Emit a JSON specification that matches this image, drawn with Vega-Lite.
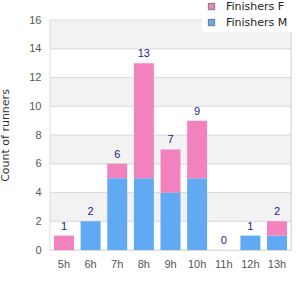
{
  "$schema": "https://vega.github.io/schema/vega-lite/v6.json",
  "width": 241,
  "height": 230,
  "autosize": {"type": "none"},
  "padding": {"left": 50, "top": 20, "right": 9, "bottom": 50},
  "background": "white",
  "config": {
    "view": {"stroke": "#dddddd", "strokeWidth": 1},
    "font": "Liberation Sans",
    "axisY": {"title": "Count of runners", "values": [0, 2, 4, 6, 8, 10, 12, 14, 16], "labelOverlap": false, "labelBound": false, "grid": false, "ticks": false, "domain": false, "labelPadding": 9, "labelColor": "#555555", "labelFontSize": 11, "labelFont": "Liberation Sans", "titleFont": "DejaVu Sans", "titleFontWeight": "normal", "titleFontSize": 11, "titleColor": "#333333", "titlePadding": 18}
  },
  "datasets": {
    "runners": [
      {"hour": "5h", "sex": "Finishers M", "count": 0},
      {"hour": "5h", "sex": "Finishers F", "count": 1},
      {"hour": "6h", "sex": "Finishers M", "count": 2},
      {"hour": "6h", "sex": "Finishers F", "count": 0},
      {"hour": "7h", "sex": "Finishers M", "count": 5},
      {"hour": "7h", "sex": "Finishers F", "count": 1},
      {"hour": "8h", "sex": "Finishers M", "count": 5},
      {"hour": "8h", "sex": "Finishers F", "count": 8},
      {"hour": "9h", "sex": "Finishers M", "count": 4},
      {"hour": "9h", "sex": "Finishers F", "count": 3},
      {"hour": "10h", "sex": "Finishers M", "count": 5},
      {"hour": "10h", "sex": "Finishers F", "count": 4},
      {"hour": "11h", "sex": "Finishers M", "count": 0},
      {"hour": "11h", "sex": "Finishers F", "count": 0},
      {"hour": "12h", "sex": "Finishers M", "count": 1},
      {"hour": "12h", "sex": "Finishers F", "count": 0},
      {"hour": "13h", "sex": "Finishers M", "count": 1},
      {"hour": "13h", "sex": "Finishers F", "count": 1}
    ],
    "bands": [
      {"lo": 0, "hi": 2, "shade": "w"},
      {"lo": 2, "hi": 4, "shade": "g"},
      {"lo": 4, "hi": 6, "shade": "w"},
      {"lo": 6, "hi": 8, "shade": "g"},
      {"lo": 8, "hi": 10, "shade": "w"},
      {"lo": 10, "hi": 12, "shade": "g"},
      {"lo": 12, "hi": 14, "shade": "w"},
      {"lo": 14, "hi": 16, "shade": "g"}
    ]
  },
  "layer": [
    {
      "data": {"name": "bands"},
      "mark": {"type": "rect", "stroke": "#dddddd", "strokeWidth": 1},
      "encoding": {
        "y": {"field": "lo", "type": "quantitative", "scale": {"domain": [0, 16]}, "title": "Count of runners"},
        "y2": {"field": "hi"},
        "fill": {"field": "shade", "type": "nominal", "scale": {"domain": ["w", "g"], "range": ["#ffffff", "#f2f2f2"]}, "legend": null}
      }
    },
    {
      "data": {"name": "runners"},
      "mark": {"type": "bar"},
      "encoding": {
        "x": {
          "field": "hour", "type": "nominal", "sort": null,
          "scale": {"paddingInner": 0.25, "paddingOuter": 0.15},
          "axis": {"title": null, "labelAngle": 0, "ticks": false, "domain": false, "labelPadding": 8, "labelColor": "#555555", "labelFontSize": 11, "labelFont": "Liberation Sans"}
        },
        "y": {
          "field": "count", "type": "quantitative", "aggregate": "sum", "stack": "zero",
          "scale": {"domain": [0, 16]}, "title": "Count of runners"
        },
        "color": {
          "field": "sex", "type": "nominal",
          "scale": {"domain": ["Finishers F", "Finishers M"], "range": ["#f282bd", "#61a9f3"]},
          "legend": {"title": null, "orient": "none", "legendX": 152, "legendY": -23, "fillColor": "white", "padding": 4, "symbolType": "square", "symbolSize": 40, "symbolStrokeColor": "#777777", "symbolStrokeWidth": 1, "labelFont": "DejaVu Sans", "labelFontSize": 11, "labelColor": "#222222", "rowPadding": 4, "labelOffset": 9}
        },
        "order": {"field": "sex", "sort": "descending"}
      }
    },
    {
      "data": {"name": "runners"},
      "mark": {"type": "text", "dy": -9, "fontSize": 11, "font": "Liberation Sans", "color": "#1c1c8c"},
      "encoding": {
        "x": {"field": "hour", "type": "nominal", "sort": null},
        "y": {"field": "count", "type": "quantitative", "aggregate": "sum", "title": "Count of runners"},
        "text": {"field": "count", "type": "quantitative", "aggregate": "sum"}
      }
    }
  ]
}
